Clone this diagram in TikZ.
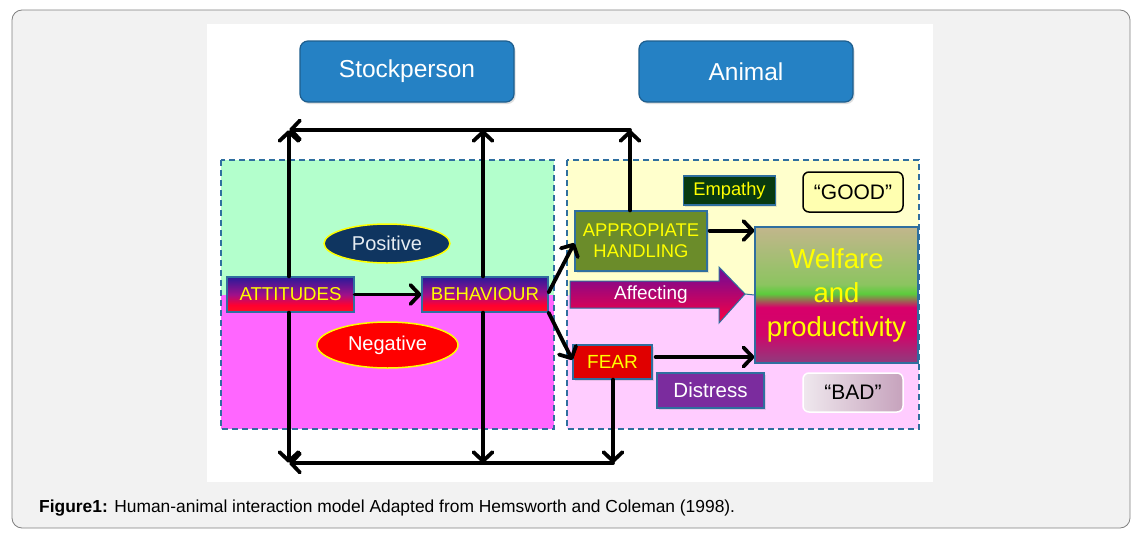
\documentclass[tikz,border=0pt]{standalone}
\usepackage{fontspec}
\setmainfont{Liberation Sans}
\usetikzlibrary{arrows.meta,calc,shadows,shapes.geometric}
\definecolor{frameg}{HTML}{F2F2F2}
\definecolor{framed}{HTML}{808080}
\definecolor{hdrblue}{HTML}{2581C4}
\definecolor{hdrbord}{HTML}{1E5E8E}
\definecolor{bbord}{HTML}{2F6F9F}
\definecolor{lgreen}{HTML}{B3FFCC}
\definecolor{lmag}{HTML}{FF66FF}
\definecolor{lyel}{HTML}{FFFFCC}
\definecolor{lpink}{HTML}{FFCCFF}
\definecolor{posfill}{HTML}{0F3560}
\definecolor{postext}{HTML}{E6ECF2}
\definecolor{gA}{HTML}{FF1020}
\definecolor{gB}{HTML}{FF0030}
\definecolor{gC}{HTML}{A0108A}
\definecolor{gD}{HTML}{2A1A9A}
\definecolor{ahfill}{HTML}{6B8C2A}
\definecolor{empfill}{HTML}{083A10}
\definecolor{goodfill}{HTML}{FFFFB0}
\definecolor{fearfill}{HTML}{E00000}
\definecolor{disfill}{HTML}{7B2C9E}
\definecolor{badA}{HTML}{EFE8EE}
\definecolor{badB}{HTML}{C6A2BC}
\definecolor{afftop}{HTML}{6A0A9A}
\definecolor{affbot}{HTML}{FF0040}
\definecolor{wpur}{HTML}{8E3C7E}
\definecolor{wmag}{HTML}{D0066A}
\definecolor{wred}{HTML}{D8006A}
\definecolor{wgrn}{HTML}{5CCC3C}
\definecolor{wlgr}{HTML}{8CC460}
\definecolor{wtan}{HTML}{C2B68C}
\definecolor{txtyel}{HTML}{FFFF00}
\pgfdeclareverticalshading{welfshade}{100bp}{color(0bp)=(wpur); color(25bp)=(wpur); color(35.5bp)=(wmag); color(45.5bp)=(wred); color(50.5bp)=(wgrn); color(54bp)=(wlgr); color(75bp)=(wtan); color(100bp)=(wtan)}
\pgfdeclareverticalshading{attshade}{100bp}{color(0bp)=(gA); color(25bp)=(gA); color(35bp)=(gB); color(50bp)=(gC); color(75bp)=(gD); color(100bp)=(gD)}
\newcommand{\fsz}[1]{\fontsize{#1}{#1}\selectfont}
\begin{document}
\begin{tikzpicture}[x=1pt,y=-1pt,
  arr/.style={line width=3.8pt, line cap=round, line join=round, -{Straight Barb[length=9pt,width=19pt,round]}},
  hdr/.style={draw=hdrbord, line width=1.2pt, fill=hdrblue, rounded corners=8pt, minimum width=214pt, minimum height=61pt, inner sep=0pt, text=white, font=\fsz{24.5}, drop shadow={opacity=0.25, shadow xshift=1.5pt, shadow yshift=-2pt}},
  gbox/.style={draw=bbord, line width=1.2pt, inner sep=0pt, shading=attshade, text=txtyel, font=\fsz{18.6}, minimum height=35pt},
  sbox/.style={draw=bbord, line width=1.2pt, inner sep=0pt, align=center, drop shadow={opacity=0.2, shadow xshift=1.5pt, shadow yshift=-1.5pt}},
  ell/.style={ellipse, draw=txtyel, line width=1.5pt, inner sep=0pt},
  region/.style={draw=bbord, line width=1.5pt, dash pattern=on 6pt off 4pt}
]
\useasboundingbox (0,0) rectangle (1143,541);
% outer frame
\draw[framed, fill=frameg, line width=0.8pt, rounded corners=10pt] (12,10) rectangle (1130,528);
\fill[white] (207,24) rectangle (933,482);
% regions
\fill[lgreen] (221,160) rectangle (554,295);
\fill[lmag] (221,295) rectangle (554,429);
\draw[region] (221,160) rectangle (554,429);
\fill[lyel] (567,160) rectangle (919,295);
\fill[lpink] (567,295) rectangle (919,429);
\draw[region] (567,160) rectangle (919,429);
% header boxes
\node[hdr] (st) at (407,71.5) {Stockperson};
\node[hdr] (an) at (746,71.5) {Animal};
% corner coordinates
\coordinate (tl) at (289,130);
\coordinate (tm) at (483,130);
\coordinate (tr) at (630,130);
\coordinate (bl) at (289,463);
\coordinate (bm) at (483,463);
\coordinate (br) at (613,463);
% ellipses
\node[ell, fill=posfill, text=postext, minimum width=126pt, minimum height=39pt, font=\fsz{20}] (pos) at (387,243.5) {Positive};
\node[ell, fill=red, text=white, minimum width=141pt, minimum height=46pt, font=\fsz{20}] (neg) at (387.5,345) {Negative};
% boxes
\node[gbox, minimum width=127pt] (att) at (290.5,294.5) {ATTITUDES};
\node[gbox, minimum width=126pt] (beh) at (485,294.5) {BEHAVIOUR};
\node[sbox, fill=ahfill, text=txtyel, minimum width=132pt, minimum height=60pt, font=\fontsize{18.4}{21}\selectfont] (ah) at (641,241) {APPROPIATE\\HANDLING};
\node[sbox, fill=empfill, text=txtyel, minimum width=92pt, minimum height=29pt, font=\fsz{18.3}] (emp) at (729.5,190.5) {Empathy};
\node[draw=black, line width=1.5pt, fill=goodfill, rounded corners=6pt, minimum width=100pt, minimum height=40pt, inner sep=0pt, font=\fsz{21}] (good) at (853,192) {“GOOD”};
\node[draw=bbord, line width=1.2pt, shading=welfshade, minimum width=163pt, minimum height=136pt, inner sep=0pt, text=txtyel, align=center, font=\fontsize{27.5}{34}\selectfont] (wel) at (836.5,295) {Welfare\\and\\productivity};
\node[sbox, fill=fearfill, text=txtyel, minimum width=79pt, minimum height=34pt, font=\fsz{19}] (fear) at (612.5,362) {FEAR};
\node[sbox, fill=disfill, text=white, minimum width=107pt, minimum height=35pt, font=\fsz{20.5}] (dis) at (710.5,390.5) {Distress};
\node[draw=white, line width=1.5pt, shading=axis, shading angle=135, left color=badA, right color=badB, rounded corners=6pt, minimum width=100pt, minimum height=39pt, inner sep=0pt, font=\fsz{21}] (bad) at (853,392.5) {“BAD”};
% Affecting block arrow
\shade[top color=afftop, bottom color=affbot, draw=bbord, line width=1pt]
  (570,281) -- (719,281) -- (719,267) -- (745,294) -- (719,323) -- (719,308) -- (570,308) -- cycle;
\node[text=white, font=\fsz{19}] (aff) at (651,294.5) {Affecting};
\draw[bbord, line width=1pt] (745,294) -- (wel.west);
% connectors
\coordinate (ahp) at ($(ah.north east)!0.33!(ah.south east)$);
\draw[arr] (att.north -| tl) -- (tl);
\draw[arr] (att.south -| bl) -- (bl);
\draw[arr] (beh.north -| tm) -- (tm);
\draw[arr] (beh.south -| bm) -- (bm);
\draw[arr] (ah.north -| tr) -- (tr);
\draw[arr] (fear.south -| br) -- (br);
\draw[arr] (tr) -- (tl);
\draw[arr] (br) -- (bl);
\draw[arr] (att.east) -- (beh.west);
\draw[arr] ([yshift=2pt]beh.east) -- ([yshift=-2pt]ah.west);
\draw[arr] (beh.south east) -- ([yshift=2pt]fear.west);
\draw[arr] ([xshift=2pt]ahp) -- (ahp -| wel.west);
\draw[arr] ([xshift=3pt,yshift=5pt]fear.east) -- ([yshift=5pt]fear.east -| wel.west);
% caption
\node[anchor=base west, inner sep=0pt, font=\fsz{17.4}] (cap) at (39,512) {\textbf{Figure1:} Human-animal interaction model Adapted from Hemsworth and Coleman (1998).};
\end{tikzpicture}
\end{document}
